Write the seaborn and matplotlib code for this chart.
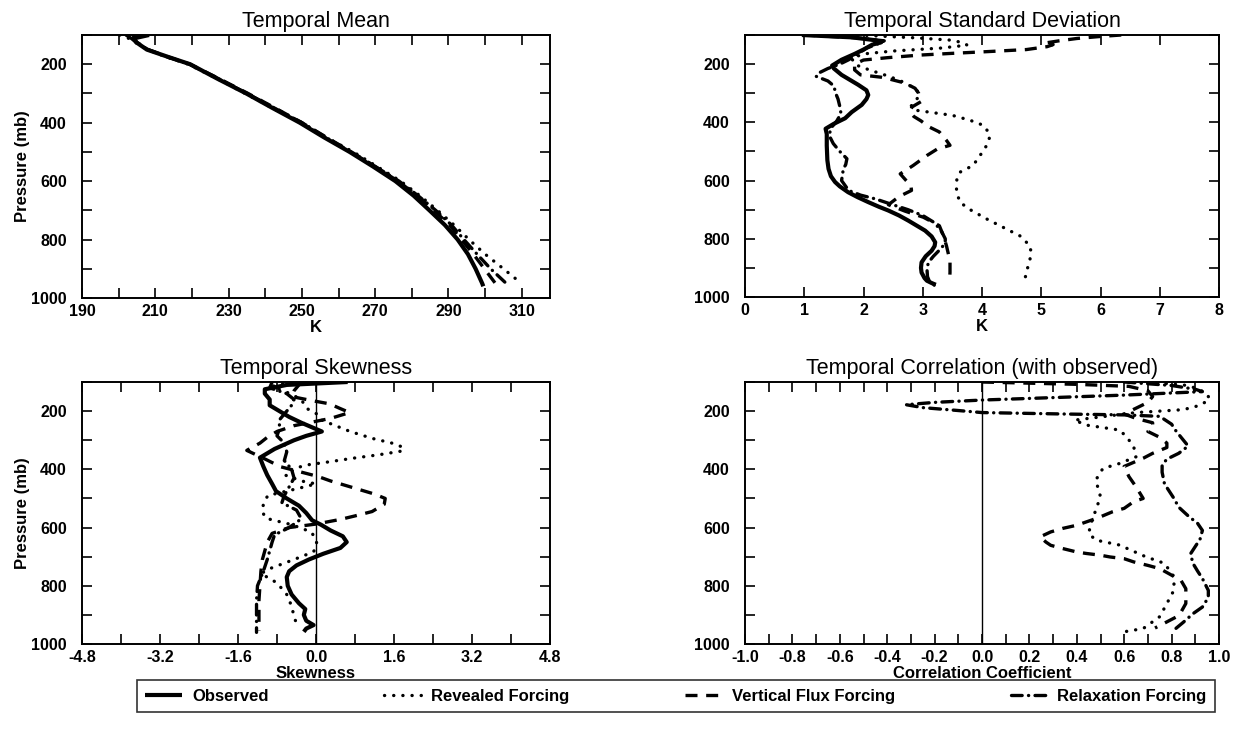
import numpy as np
import pandas as pd
import matplotlib
matplotlib.use("Agg")
import matplotlib.pyplot as plt
import seaborn as sns
from matplotlib.lines import Line2D

# ---------------- data ----------------
# Panel 1: temporal mean temperature (K) vs pressure (mb)
mean_obs_p = [100, 112, 125, 150, 175, 200, 250, 300, 350, 400, 450, 500, 550, 600, 650, 700, 750, 800, 850, 900, 950, 960]
mean_obs_v = [208.3, 204.0, 204.8, 207.7, 213.5, 219.5, 227.0, 234.8, 242.0, 249.4, 256.0, 263.0, 269.4, 275.5, 280.5, 284.8, 289.0, 292.5, 295.3, 297.4, 299.2, 299.5]
mean_rev_p = [100, 110, 125, 150, 175, 200, 250, 300, 350, 400, 450, 500, 550, 600, 650, 700, 750, 800, 850, 900, 944]
mean_rev_v = [200.3, 202.5, 204.5, 208.0, 213.0, 219.0, 227.0, 234.5, 242.0, 250.0, 256.5, 264.0, 270.5, 276.9, 282.2, 287.0, 291.5, 295.6, 300.0, 305.0, 309.3]
mean_vfx_p = [100, 112, 125, 150, 175, 200, 250, 300, 350, 400, 450, 500, 550, 600, 650, 700, 750, 800, 850, 900, 950]
mean_vfx_v = [204.0, 204.3, 205.0, 208.0, 213.5, 219.5, 227.5, 235.3, 242.7, 250.0, 256.7, 263.5, 270.0, 276.2, 281.5, 286.0, 290.3, 293.5, 296.8, 299.8, 302.8]
mean_rlx_p = [100, 112, 125, 150, 175, 200, 250, 300, 350, 400, 450, 500, 550, 600, 650, 700, 750, 800, 850, 900, 960]
mean_rlx_v = [202.0, 203.5, 204.8, 208.0, 213.3, 219.3, 227.3, 235.0, 242.5, 250.0, 256.5, 263.3, 270.0, 276.5, 281.7, 286.5, 290.8, 294.2, 297.8, 301.5, 306.6]

# Panel 2: temporal standard deviation (K)
std_obs_p = [100, 108, 118, 125, 133, 150, 165, 185, 205, 215, 237, 271, 290, 306, 320, 340, 365, 386, 405, 422, 440, 480, 530, 560, 585, 605, 620, 640, 657, 674, 690, 703, 720, 738, 755, 772, 792, 812, 825, 841, 860, 881, 900, 916, 935, 944, 952, 958]
std_obs_v = [0.96, 1.8, 2.2, 2.3, 2.15, 2.0, 1.85, 1.63, 1.47, 1.5, 1.63, 1.91, 2.05, 2.08, 2.05, 1.97, 1.8, 1.69, 1.5, 1.36, 1.38, 1.38, 1.39, 1.41, 1.45, 1.52, 1.6, 1.74, 1.9, 2.08, 2.26, 2.42, 2.6, 2.76, 2.9, 3.04, 3.15, 3.21, 3.2, 3.15, 3.05, 2.98, 2.97, 2.98, 3.03, 3.07, 3.15, 3.22]
std_rev_p = [100, 110, 118, 128, 135, 145, 155, 165, 180, 202, 220, 240, 255, 271, 290, 307, 325, 345, 359, 376, 393, 410, 439, 460, 479, 510, 548, 571, 590, 606, 640, 675, 700, 732, 760, 790, 824, 850, 870, 900, 933, 950]
std_rev_v = [1.9, 2.9, 3.5, 3.7, 3.75, 3.3, 2.5, 2.0, 1.8, 1.86, 2.1, 2.4, 2.6, 2.76, 2.9, 2.95, 2.88, 2.8, 2.9, 3.5, 3.8, 4.02, 4.13, 4.12, 4.08, 3.98, 3.85, 3.63, 3.58, 3.57, 3.57, 3.63, 3.8, 4.08, 4.35, 4.64, 4.81, 4.83, 4.81, 4.77, 4.73, 4.7]
std_vfx_p = [100, 105, 112, 120, 128, 133, 140, 150, 157, 163, 169, 178, 186, 200, 220, 237, 245, 252, 265, 283, 300, 329, 347, 364, 380, 395, 415, 433, 462, 479, 491, 514, 548, 577, 600, 617, 634, 655, 683, 705, 726, 755, 790, 824, 876, 916, 950]
std_vfx_v = [6.35, 6.0, 5.6, 5.3, 5.05, 5.2, 5.1, 4.75, 4.1, 3.5, 2.95, 2.4, 2.0, 1.85, 1.85, 1.95, 2.3, 2.45, 2.7, 2.87, 2.93, 2.97, 2.82, 2.78, 2.85, 2.97, 3.1, 3.28, 3.4, 3.46, 3.25, 3.07, 2.84, 2.62, 2.72, 2.8, 2.81, 2.6, 2.42, 2.7, 3.01, 3.28, 3.35, 3.4, 3.46, 3.46, 3.45]
std_rlx_p = [100, 110, 120, 130, 145, 165, 185, 200, 215, 230, 242, 258, 275, 300, 320, 345, 370, 395, 420, 445, 473, 500, 525, 545, 560, 600, 634, 650, 663, 680, 700, 720, 745, 776, 800, 815, 835, 860, 880, 900, 930, 950, 960]
std_rlx_v = [1.0, 1.9, 2.35, 2.25, 2.05, 1.9, 1.75, 1.6, 1.4, 1.25, 1.2, 1.4, 1.5, 1.53, 1.57, 1.6, 1.62, 1.55, 1.45, 1.42, 1.49, 1.6, 1.72, 1.7, 1.66, 1.63, 1.75, 1.95, 2.2, 2.45, 2.75, 3.0, 3.2, 3.32, 3.38, 3.38, 3.3, 3.18, 3.1, 3.07, 3.08, 3.12, 3.2]

# Panel 3: temporal skewness
skw_obs_p = [100, 110, 125, 140, 160, 180, 200, 220, 240, 260, 270, 285, 300, 330, 360, 390, 420, 450, 475, 500, 525, 550, 575, 590, 610, 630, 650, 670, 690, 710, 730, 750, 770, 800, 830, 860, 880, 900, 920, 935, 947, 958]
skw_obs_v = [0.65, -0.6, -1.05, -1.05, -0.95, -0.95, -0.75, -0.55, -0.3, -0.02, 0.12, -0.2, -0.45, -0.85, -1.15, -1.08, -1.0, -0.9, -0.82, -0.6, -0.35, -0.2, -0.08, 0.1, 0.3, 0.55, 0.63, 0.5, 0.15, -0.15, -0.4, -0.55, -0.6, -0.58, -0.5, -0.35, -0.22, -0.25, -0.2, -0.05, -0.2, -0.25]
skw_rev_p = [100, 115, 135, 160, 190, 210, 230, 250, 270, 294, 310, 325, 338, 350, 362, 374, 385, 395, 420, 440, 450, 465, 490, 520, 546, 568, 590, 615, 640, 660, 683, 700, 723, 740, 758, 790, 830, 870, 906, 930, 947]
skw_rev_v = [-0.5, -0.9, -0.6, -0.3, -0.2, 0.02, 0.1, 0.4, 0.7, 1.16, 1.56, 1.8, 1.73, 1.29, 0.75, 0.28, -0.19, -0.4, -0.63, -0.3, 0.0, -0.35, -0.99, -1.08, -1.1, -1.03, -0.5, -0.1, 0.0, 0.02, -0.05, -0.3, -0.66, -0.93, -1.13, -0.8, -0.6, -0.5, -0.45, -0.4, -0.35]
skw_vfx_p = [100, 130, 150, 165, 175, 190, 205, 225, 250, 270, 290, 310, 335, 360, 391, 414, 425, 440, 455, 470, 485, 500, 520, 545, 560, 572, 588, 600, 620, 650, 680, 710, 750, 800, 850, 900, 955]
skw_vfx_v = [-0.3, -0.45, -0.5, -0.05, 0.28, 0.48, 0.69, 0.3, -0.45, -0.8, -1.0, -1.15, -1.42, -1.1, -0.73, -0.2, 0.05, 0.3, 0.6, 0.9, 1.2, 1.42, 1.4, 1.15, 0.8, 0.5, 0.0, -0.55, -0.9, -1.0, -1.05, -1.1, -1.13, -1.15, -1.17, -1.17, -1.17]
skw_rlx_p = [100, 120, 140, 160, 180, 200, 230, 260, 285, 310, 340, 370, 400, 430, 460, 490, 515, 540, 570, 600, 625, 650, 680, 710, 750, 800, 850, 900, 960]
skw_rlx_v = [-0.9, -0.95, -0.6, -0.45, -0.5, -0.6, -0.75, -0.75, -0.8, -0.65, -0.6, -0.65, -0.5, -0.45, -0.55, -0.65, -0.7, -0.4, -0.3, -0.55, -0.85, -0.9, -0.95, -1.0, -1.08, -1.2, -1.22, -1.22, -1.22]

# Panel 4: temporal correlation with observed
cor_rev_p = [100, 110, 120, 140, 160, 180, 195, 205, 215, 231, 248, 265, 288, 322, 357, 380, 397, 437, 494, 540, 586, 620, 643, 660, 700, 723, 769, 815, 861, 906, 947, 958]
cor_rev_v = [0.7, 0.85, 0.9, 0.95, 0.96, 0.92, 0.85, 0.65, 0.55, 0.39, 0.44, 0.58, 0.61, 0.64, 0.65, 0.58, 0.51, 0.48, 0.5, 0.48, 0.46, 0.45, 0.48, 0.58, 0.69, 0.77, 0.81, 0.81, 0.78, 0.75, 0.68, 0.6]
cor_vfx_p = [100, 108, 115, 130, 150, 170, 190, 210, 225, 240, 255, 270, 290, 310, 325, 345, 362, 390, 425, 460, 500, 511, 534, 546, 563, 575, 592, 603, 615, 632, 650, 661, 672, 684, 689, 695, 701, 707, 718, 730, 741, 759, 782, 810, 861, 890, 907, 924, 945]
cor_vfx_v = [0.0, 0.4, 0.62, 0.7, 0.72, 0.7, 0.65, 0.6, 0.65, 0.72, 0.72, 0.7, 0.75, 0.78, 0.78, 0.72, 0.68, 0.6, 0.62, 0.65, 0.68, 0.64, 0.6, 0.55, 0.5, 0.46, 0.4, 0.34, 0.29, 0.245, 0.27, 0.29, 0.34, 0.4, 0.44, 0.5, 0.54, 0.6, 0.64, 0.7, 0.75, 0.79, 0.84, 0.86, 0.86, 0.84, 0.82, 0.78, 0.73]
cor_rlx_p = [100, 112, 125, 133, 145, 155, 162, 170, 178, 188, 198, 205, 210, 213, 218, 245, 270, 300, 320, 345, 365, 385, 410, 450, 500, 530, 560, 586, 610, 640, 665, 690, 723, 750, 775, 816, 840, 873, 896, 925, 952]
cor_rlx_v = [0.6, 0.8, 0.9, 0.93, 0.6, 0.25, 0.0, -0.2, -0.32, -0.25, -0.1, 0.0, 0.35, 0.6, 0.75, 0.8, 0.82, 0.85, 0.87, 0.83, 0.78, 0.76, 0.76, 0.77, 0.81, 0.83, 0.87, 0.91, 0.93, 0.92, 0.9, 0.88, 0.89, 0.91, 0.93, 0.955, 0.955, 0.93, 0.89, 0.85, 0.81]

series_names = ["Observed", "Revealed Forcing", "Vertical Flux Forcing", "Relaxation Forcing"]
panel_titles = ["Temporal Mean", "Temporal Standard Deviation", "Temporal Skewness", "Temporal Correlation (with observed)"]
panel_xlabels = ["K", "K", "Skewness", "Correlation Coefficient"]
y_ticks = [100, 200, 300, 400, 500, 600, 700, 800, 900, 1000]
y_ticklabels = ["", "200", "", "400", "", "600", "", "800", "", "1000"]
x1_ticks = [190, 200, 210, 220, 230, 240, 250, 260, 270, 280, 290, 300, 310]
x1_labels = ["190", "", "210", "", "230", "", "250", "", "270", "", "290", "", "310"]
x2_ticks = [0, 1, 2, 3, 4, 5, 6, 7, 8]
x2_labels = ["0", "1", "2", "3", "4", "5", "6", "7", "8"]
x3_ticks = [-4.8, -4.0, -3.2, -2.4, -1.6, -0.8, 0.0, 0.8, 1.6, 2.4, 3.2, 4.0, 4.8]
x3_labels = ["-4.8", "", "-3.2", "", "-1.6", "", "0.0", "", "1.6", "", "3.2", "", "4.8"]
x4_ticks = [-1.0, -0.9, -0.8, -0.7, -0.6, -0.5, -0.4, -0.3, -0.2, -0.1, 0.0, 0.1, 0.2, 0.3, 0.4, 0.5, 0.6, 0.7, 0.8, 0.9, 1.0]
x4_labels = ["-1.0", "", "-0.8", "", "-0.6", "", "-0.4", "", "-0.2", "", "0.0", "", "0.2", "", "0.4", "", "0.6", "", "0.8", "", "1.0"]

# ---------------- styling ----------------
sns.set_theme(style="ticks")
plt.rcParams['font.family'] = ['Liberation Sans', 'DejaVu Sans']
for k in ["text.color", "axes.labelcolor", "xtick.color", "ytick.color", "axes.edgecolor"]:
    plt.rcParams[k] = "black"

STYLES = {
    "Observed": dict(linestyle="-", linewidth=3.0, solid_capstyle="butt"),
    "Revealed Forcing": dict(linestyle=(0, (0.05, 2.7)), linewidth=2.4, dash_capstyle="round"),
    "Vertical Flux Forcing": dict(linestyle=(0, (3.6, 2.6)), linewidth=2.4, dash_capstyle="butt"),
    "Relaxation Forcing": dict(linestyle=(0, (3.2, 1.9, 0.05, 1.9)), linewidth=2.4, dash_capstyle="round"),
}

W, H = 1242, 732
fig = plt.figure(figsize=(W / 100, H / 100), dpi=100)

def add_ax(l, r, t, b):
    return fig.add_axes([l / W, 1 - b / H, (r - l) / W, (b - t) / H])

axes = [add_ax(82, 550, 35, 298), add_ax(745, 1219, 35, 297),
        add_ax(82, 550, 382, 644), add_ax(745, 1219, 382, 644)]

panels = [
    [(mean_obs_p, mean_obs_v, "Observed"), (mean_rev_p, mean_rev_v, "Revealed Forcing"),
     (mean_vfx_p, mean_vfx_v, "Vertical Flux Forcing"), (mean_rlx_p, mean_rlx_v, "Relaxation Forcing")],
    [(std_obs_p, std_obs_v, "Observed"), (std_rev_p, std_rev_v, "Revealed Forcing"),
     (std_vfx_p, std_vfx_v, "Vertical Flux Forcing"), (std_rlx_p, std_rlx_v, "Relaxation Forcing")],
    [(skw_obs_p, skw_obs_v, "Observed"), (skw_rev_p, skw_rev_v, "Revealed Forcing"),
     (skw_vfx_p, skw_vfx_v, "Vertical Flux Forcing"), (skw_rlx_p, skw_rlx_v, "Relaxation Forcing")],
    [(cor_rev_p, cor_rev_v, "Revealed Forcing"),
     (cor_vfx_p, cor_vfx_v, "Vertical Flux Forcing"), (cor_rlx_p, cor_rlx_v, "Relaxation Forcing")],
]
xlims = [(190, 317.7), (0, 8), (-4.8, 4.8), (-1.0, 1.0)]
xticks = [(x1_ticks, x1_labels), (x2_ticks, x2_labels), (x3_ticks, x3_labels), (x4_ticks, x4_labels)]

tickfont = dict(fontsize=11.5, fontweight="bold")
for i, ax in enumerate(axes):
    if i >= 2:
        ax.axvline(0.0, color="black", linewidth=1.0, zorder=1)
    for p, v, name in panels[i]:
        df = pd.DataFrame({"p": p, "v": v})
        sns.lineplot(data=df, x="v", y="p", ax=ax, color="black", sort=False,
                     estimator=None, orient="y", zorder=3, **STYLES[name])
    ax.set_xlim(*xlims[i])
    ax.set_ylim(1000, 100)
    ax.set_xticks(xticks[i][0])
    ax.set_xticklabels(xticks[i][1], **tickfont)
    ax.set_yticks(y_ticks)
    ax.set_yticklabels(y_ticklabels, **tickfont)
    if i % 2 == 0:
        ax.set_ylabel("Pressure (mb)", fontsize=12, fontweight="bold")
        ax.yaxis.set_label_coords(-0.112, 0.5)
    else:
        ax.set_ylabel("")
    ax.set_xlabel(panel_xlabels[i], fontsize=12, fontweight="bold", labelpad=1)
    ax.set_title(panel_titles[i], fontsize=15.5, pad=6)
    ax.tick_params(axis="both", which="both", direction="in", length=7, width=1.2,
                   top=True, right=True, bottom=True, left=True)
    ax.tick_params(axis="x", pad=4)
    ax.tick_params(axis="y", pad=11)
    for s in ax.spines.values():
        s.set_linewidth(1.4)
        s.set_color("black")

handles = [Line2D([0], [0], color="black", **STYLES[n]) for n in series_names]
leg = fig.legend(handles, series_names, loc="lower left",
                 bbox_to_anchor=(137 / W, 1 - 712 / H, (1215 - 137) / W, 34 / H),
                 mode="expand", ncol=4, frameon=True, fancybox=False, handlelength=2.2,
                 handletextpad=0.6, borderaxespad=0, prop=dict(weight="bold", size=12),
                 borderpad=0.5)
leg.get_frame().set_edgecolor("black")
leg.get_frame().set_linewidth(1.2)

fig.savefig("out.png", dpi=100)
